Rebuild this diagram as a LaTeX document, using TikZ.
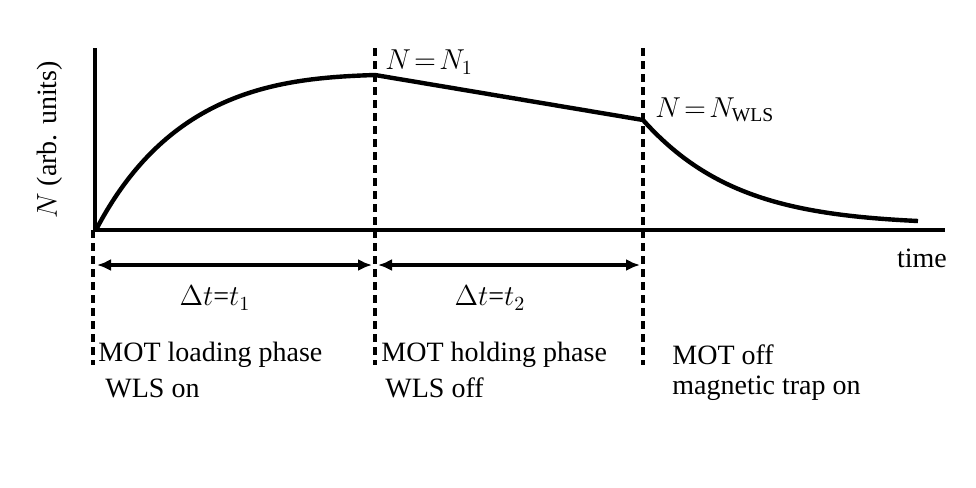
\documentclass[tikz,border=0pt]{standalone}
\usepackage{fontspec}
\setmainfont{Liberation Serif}
\usetikzlibrary{arrows.meta}
\begin{document}
\begin{tikzpicture}[x=0.5pt,y=-0.5pt,
  thk/.style={line width=2.2pt},
  vdash/.style={line width=2pt,dash pattern=on 4pt off 2.5pt},
  lbl/.style={font=\fontsize{14}{16}\selectfont,inner sep=0pt},
  dbl/.style={line width=1.6pt,{Latex[length=7pt,width=6pt]}-{Latex[length=7pt,width=6pt]}}]
\useasboundingbox (0,0) rectangle (976,488);
\coordinate (o) at (95,230);
\coordinate (ytop) at (95,48);
\coordinate (xend) at (945,230);
\draw[thk] (ytop) -- (o) -- (xend);
\coordinate (c0) at (97,228);
\coordinate (c1) at (375,75);
\coordinate (c2) at (643,120);
\coordinate (c3) at (918,221);
\draw[thk] (c0) .. controls (170,90) and (280,78) .. (c1) -- (c2)
  .. controls (710,195) and (790,215) .. (c3);
\coordinate (d1t) at (93,230); \coordinate (d1b) at (93,365);
\coordinate (d2t) at (375,48); \coordinate (d2b) at (375,365);
\coordinate (d3t) at (643,48); \coordinate (d3b) at (643,365);
\draw[vdash] (d1t) -- (d1b);
\draw[vdash] (d2t) -- (d2b);
\draw[vdash] (d3t) -- (d3b);
\coordinate (a1) at (97,265); \coordinate (a2) at (372,265);
\coordinate (a3) at (378,265); \coordinate (a4) at (640,265);
\draw[dbl] (a1) -- (a2);
\draw[dbl] (a3) -- (a4);
\node[lbl] (l1) at (215,298) {$\Delta t$=$t_1$};
\node[lbl] (l2) at (490,298) {$\Delta t$=$t_2$};
\node[lbl,anchor=west] (n1) at (385,62) {$N\!=\!N_1$};
\node[lbl,anchor=west] (n2) at (655,110) {$N\!=\!N_{\mathrm{WLS}}$};
\node[lbl] (tm) at (922,258) {time};
\node[lbl,rotate=90] (yl) at (50,140) {$N$ (arb. units)};
\node[lbl,anchor=west] (m1) at (98,355) {MOT loading phase};
\node[lbl,anchor=west] (m2) at (105,388) {WLS on};
\node[lbl,anchor=west] (m3) at (381,355) {MOT holding phase};
\node[lbl,anchor=west] (m4) at (385,388) {WLS off};
\node[lbl,anchor=west] (m5) at (672,355) {MOT off};
\node[lbl,anchor=west] (m6) at (672,388) {magnetic trap on};
\end{tikzpicture}
\end{document}
